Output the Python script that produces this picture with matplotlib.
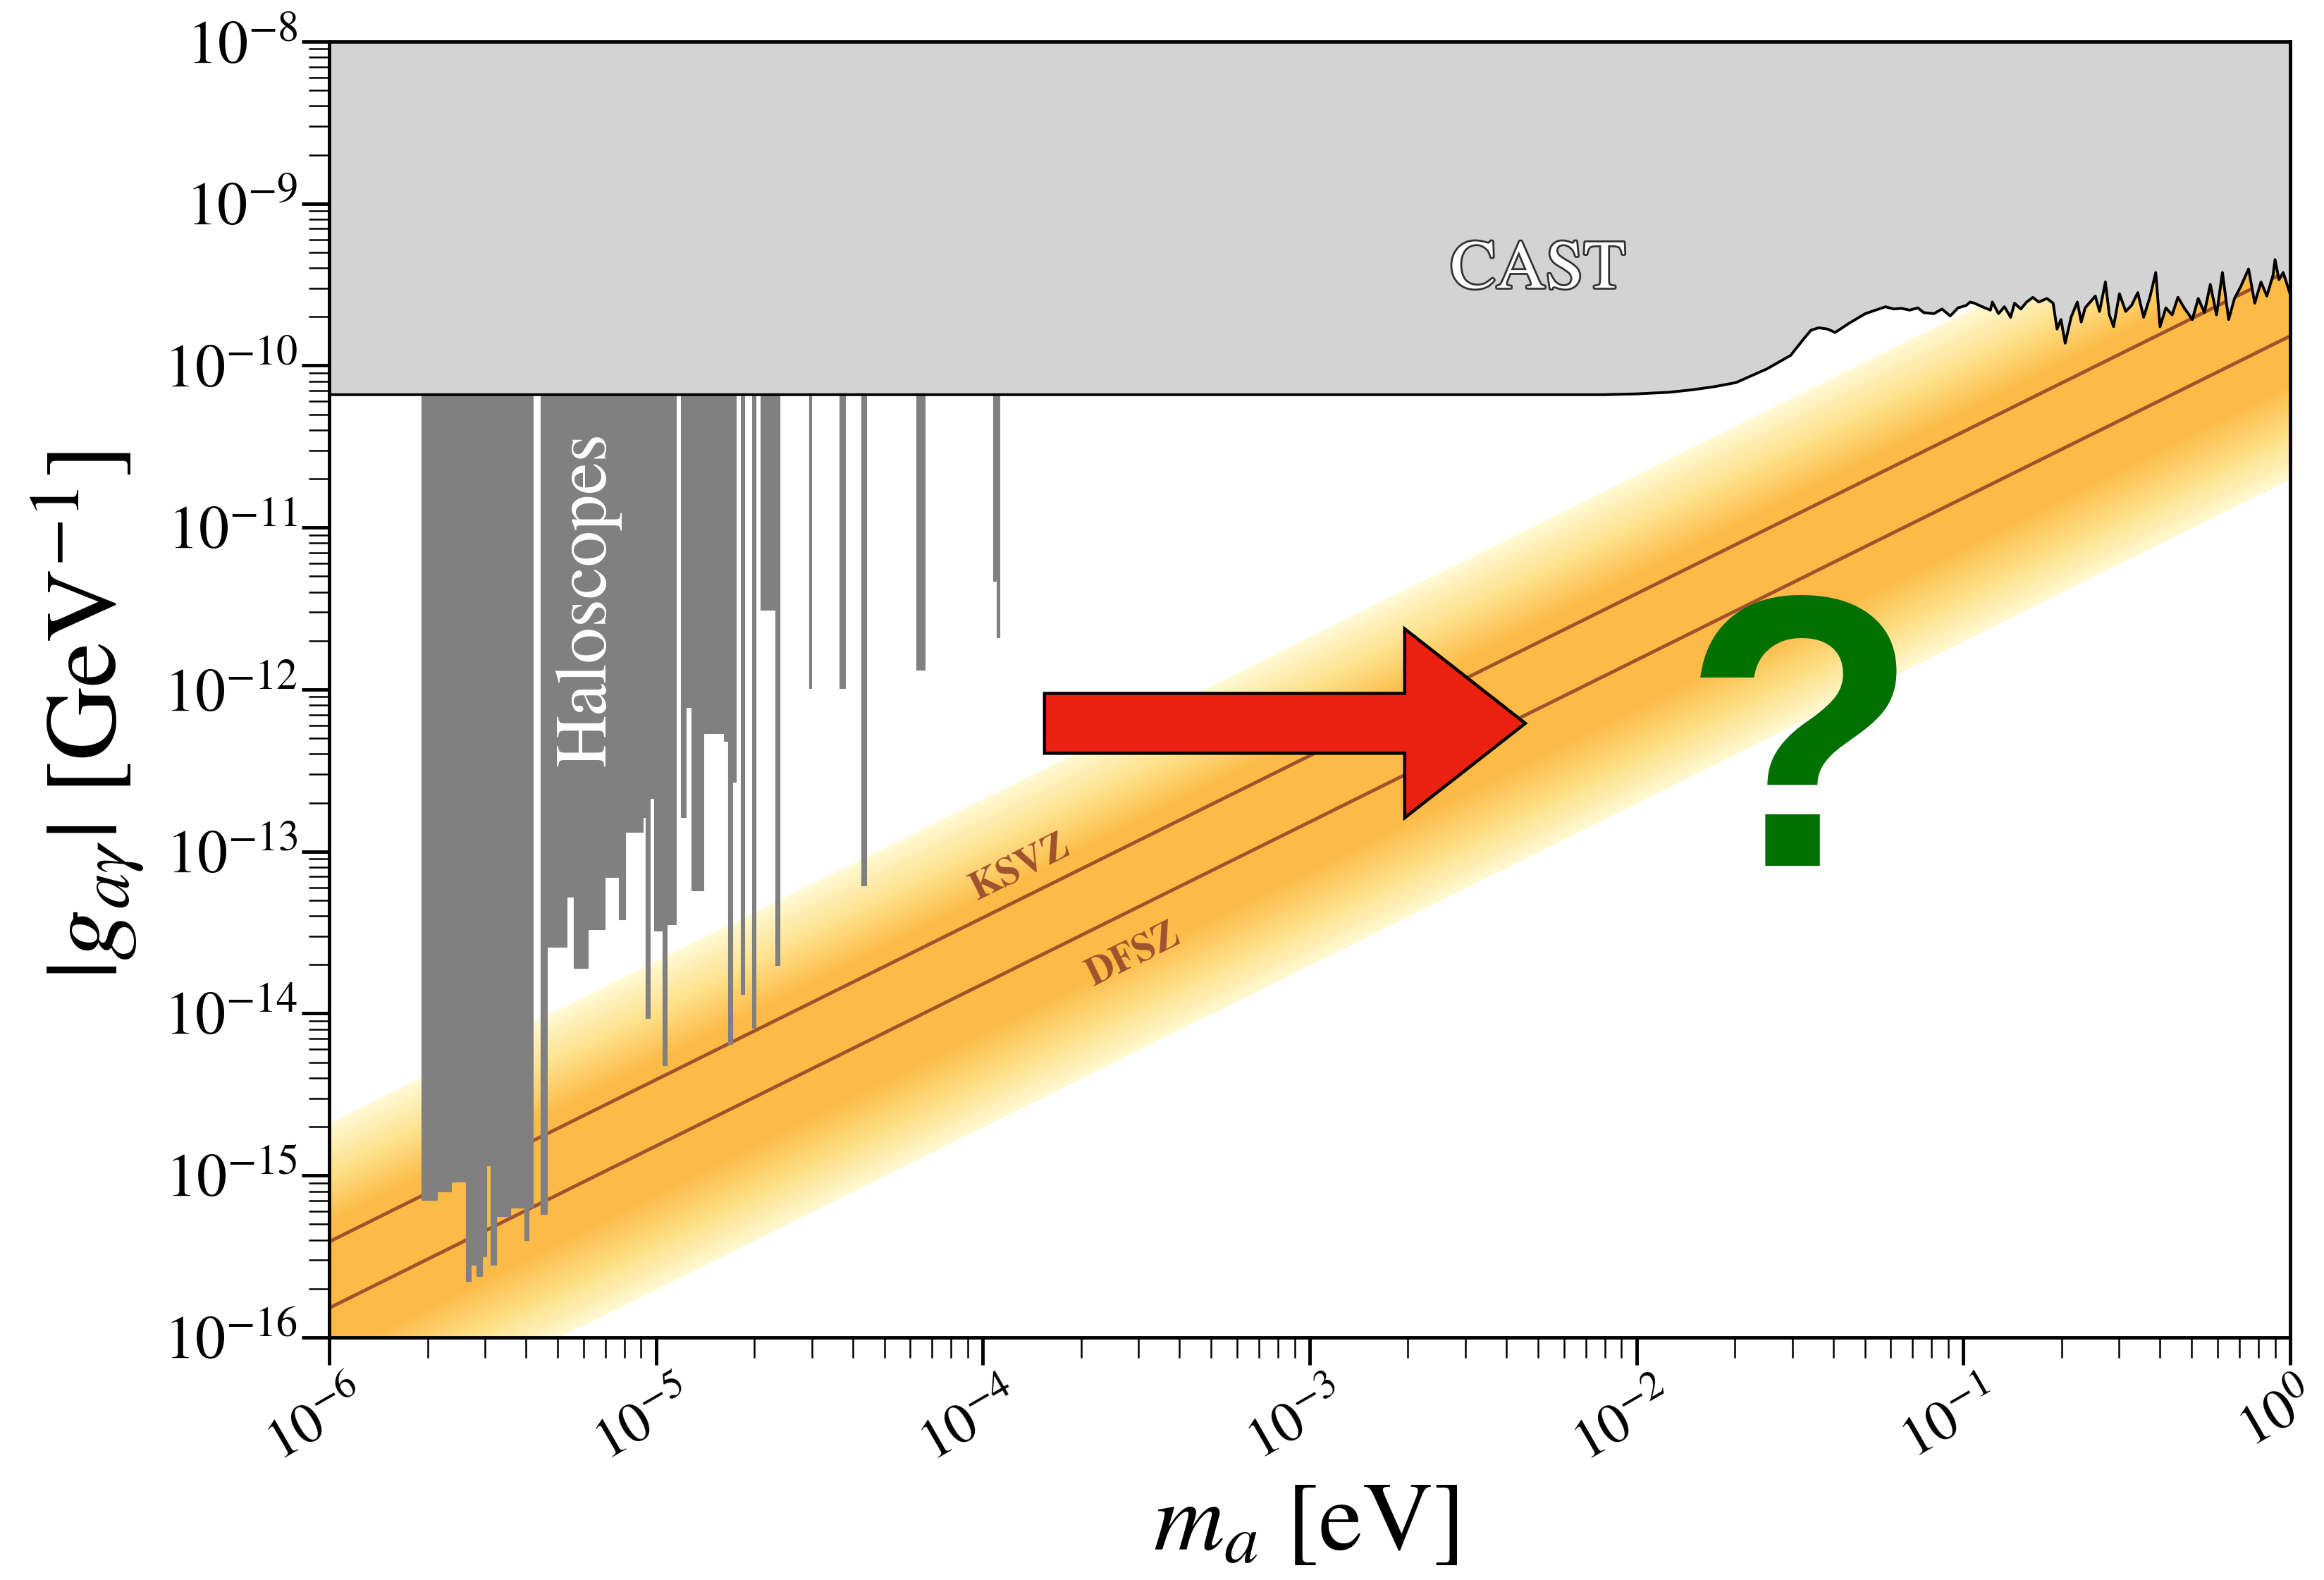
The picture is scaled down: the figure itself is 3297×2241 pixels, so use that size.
import numpy as np
import matplotlib.pyplot as plt
import matplotlib.patheffects as pe
import matplotlib.transforms as mtransforms
from matplotlib.patches import FancyArrow
from matplotlib.ticker import LogLocator, NullFormatter

plt.rcParams['font.family'] = 'STIXGeneral'
plt.rcParams['mathtext.fontset'] = 'stix'

# CAST helioscope limit, log10 of mass [eV] and coupling [GeV^-1]
cast_log_m = [-6.0, -2.10, -2.00, -1.90, -1.83, -1.76, -1.695, -1.60, -1.528, -1.49,
              -1.466, -1.442, -1.415, -1.392, -1.35, -1.300, -1.238, -1.213, -1.189, -1.164,
              -1.139, -1.121, -1.090, -1.065, -1.040, -1.016, -0.991, -0.979, -0.966, -0.942,
              -0.917, -0.911, -0.892, -0.874, -0.855, -0.843, -0.824, -0.806, -0.787, -0.769,
              -0.744, -0.725, -0.713, -0.701, -0.688, -0.670, -0.651, -0.639, -0.627, -0.608,
              -0.596, -0.583, -0.565, -0.553, -0.540, -0.522, -0.503, -0.485, -0.466, -0.448,
              -0.429, -0.411, -0.398, -0.380, -0.361, -0.343, -0.324, -0.299, -0.281, -0.262,
              -0.244, -0.225, -0.207, -0.188, -0.170, -0.151, -0.127, -0.108, -0.089, -0.071,
              -0.052, -0.046, -0.034, -0.021, 0.0]
cast_log_g = [-10.18, -10.18, -10.175, -10.165, -10.15, -10.13, -10.105, -10.02, -9.937, -9.84,
              -9.782, -9.767, -9.775, -9.796, -9.74, -9.680, -9.637, -9.651, -9.647, -9.658,
              -9.644, -9.673, -9.680, -9.651, -9.694, -9.644, -9.629, -9.608, -9.615, -9.637,
              -9.658, -9.608, -9.680, -9.637, -9.702, -9.615, -9.651, -9.608, -9.579, -9.608,
              -9.586, -9.615, -9.775, -9.716, -9.862, -9.702, -9.608, -9.731, -9.644, -9.600,
              -9.571, -9.666, -9.484, -9.687, -9.760, -9.557, -9.666, -9.629, -9.550, -9.702,
              -9.579, -9.426, -9.760, -9.644, -9.687, -9.579, -9.644, -9.716, -9.586, -9.673,
              -9.499, -9.687, -9.426, -9.716, -9.586, -9.513, -9.404, -9.615, -9.484, -9.571,
              -9.441, -9.346, -9.470, -9.426, -9.557]
cast_flat = 6.6e-11

# haloscope exclusions: mass intervals (log10 eV) and lowest coupling reached (log10)
halo_log_m_lo = [-5.717, -5.670, -5.627, -5.582, -5.567, -5.549, -5.532, -5.519, -5.506, -5.489,
                 -5.446, -5.403, -5.390, -5.353, -5.334, -5.273, -5.252, -5.209, -5.157, -5.114,
                 -5.094, -5.040, -5.032, -5.019, -5.006, -4.980, -4.967, -4.924, -4.909, -4.892,
                 -4.855, -4.792, -4.779, -4.766, -4.741, -4.706, -4.680, -4.635, -4.531, -4.439,
                 -4.372, -4.204, -3.969, -3.958]
halo_log_m_hi = [-5.670, -5.627, -5.582, -5.567, -5.549, -5.532, -5.519, -5.506, -5.489, -5.446,
                 -5.403, -5.390, -5.377, -5.334, -5.273, -5.252, -5.209, -5.157, -5.114, -5.094,
                 -5.040, -5.032, -5.019, -5.006, -4.980, -4.967, -4.939, -4.909, -4.892, -4.855,
                 -4.792, -4.779, -4.766, -4.756, -4.730, -4.695, -4.635, -4.622, -4.525, -4.421,
                 -4.357, -4.178, -3.958, -3.949]
halo_log_g = [-15.15, -15.10, -15.04, -15.65, -15.55, -15.62, -15.50, -14.94, -15.55, -15.25,
              -15.20, -15.40, -15.20, -15.24, -13.59, -13.28, -13.72, -13.48, -13.16, -13.42,
              -12.88, -12.79, -14.03, -12.67, -13.49, -14.32, -13.45, -12.79, -12.11, -13.24,
              -12.27, -12.32, -14.19, -12.57, -13.88, -14.09, -11.51, -13.70, -11.99, -11.99,
              -13.21, -11.88, -11.33, -11.68]

# QCD axion models, g = coeff * (m / eV)
ksvz_coeff = 3.9e-10
dfsz_coeff = 1.52e-10
band_upper_coeff = 2.1e-9
band_lower_coeff = 2.0e-11

mass_ticks = 10.0 ** np.arange(-6, 1)
coupling_ticks = 10.0 ** np.arange(-16, -7)

m_range = np.array([1e-6, 1.0])

fig = plt.figure(figsize=(32.98, 22.41), dpi=100)
ax = fig.add_axes([0.1416, 0.1535, 0.8435, 0.8202])
ax.set_xscale('log')
ax.set_yscale('log')
ax.set_xlim(1e-6, 1.0)
ax.set_ylim(1e-16, 1e-8)

# axion band as thin strips, shaded by distance (in decades) from the DFSZ line
stop_d = [-0.88, -0.60, -0.28, 0.52, 0.82, 1.14]
stop_rgb = np.array([[255, 250, 212], [254, 224, 136], [252, 186, 70],
                     [252, 186, 70], [254, 224, 136], [255, 250, 212]]) / 255.0
edges = np.linspace(np.log10(band_lower_coeff), np.log10(band_upper_coeff), 161)
for lo, hi in zip(edges[:-1], edges[1:]):
    d = 0.5 * (lo + hi) - np.log10(dfsz_coeff)
    col = [np.interp(d, stop_d, stop_rgb[:, k]) for k in range(3)]
    ax.fill_between(m_range, 10**lo * m_range, 10**hi * m_range,
                    facecolor=col, edgecolor=col, lw=1.0, zorder=1)

line_col = '#A0522D'
ax.plot(m_range, ksvz_coeff * m_range, color=line_col, lw=3.5, zorder=2)
ax.plot(m_range, dfsz_coeff * m_range, color=line_col, lw=3.5, zorder=2)
ax.text(1.30e-4, 7.9e-14, 'KSVZ', color=line_col, fontsize=40, fontweight='bold',
        rotation=26.4, ha='center', va='center', zorder=2)
ax.text(2.9e-4, 2.26e-14, 'DFSZ', color=line_col, fontsize=40, fontweight='bold',
        rotation=26.4, ha='center', va='center', zorder=2)

# haloscopes
for lo, hi, g in zip(halo_log_m_lo, halo_log_m_hi, halo_log_g):
    ax.fill_between([10**lo, 10**hi], 10**g, cast_flat,
                    facecolor='#808080', edgecolor='#808080', lw=0.8, zorder=3)
ax.text(6.2e-6, 3.6e-12, 'Haloscopes', color='white', fontsize=74,
        rotation=90, ha='center', va='center', zorder=4)

# CAST
cast_m = 10**np.array(cast_log_m)
cast_g = 10**np.array(cast_log_g)
ax.fill_between(cast_m, cast_g, 1e-8, color='#D3D3D3', lw=0, zorder=4)
ax.plot(cast_m, cast_g, color='black', lw=2.8, zorder=5)
ax.text(5.0e-3, 3.8e-10, 'CAST', color='white', fontsize=70, ha='center', va='center',
        zorder=6, path_effects=[pe.withStroke(linewidth=4, foreground='#333333')])

# arrow and question mark
arrow = FancyArrow(0.3648, 0.4739, 0.2452, 0.0, width=0.0462, head_width=0.1458,
                   head_length=0.0615, length_includes_head=True, transform=ax.transAxes,
                   facecolor='#EC200E', edgecolor='black', lw=3.2, joinstyle='miter',
                   zorder=7)
ax.add_patch(arrow)
ax.text(0.7505, 0.364, '?', transform=ax.transAxes, fontsize=395, fontweight='bold',
        family='Liberation Sans', color='#007000', ha='center', va='baseline', zorder=8)

# axes styling
ax.set_xticks(mass_ticks)
ax.set_yticks(coupling_ticks)
for axis in (ax.xaxis, ax.yaxis):
    axis.set_minor_locator(LogLocator(base=10, subs=np.arange(2, 10), numticks=200))
    axis.set_minor_formatter(NullFormatter())
ax.set_xlim(1e-6, 1.0)
ax.set_ylim(1e-16, 1e-8)
for sp in ax.spines.values():
    sp.set_linewidth(3.5)
    sp.set_zorder(10)
ax.tick_params(which='major', length=28, width=3.5)
ax.tick_params(which='minor', length=21, width=1.8)
ax.tick_params(axis='y', which='major', pad=4, labelsize=62)
ax.tick_params(axis='x', which='major', pad=10, labelsize=58, labelrotation=30)

# nudge the rotated mass labels a little to the left
shift = mtransforms.ScaledTranslation(-12 / 72, 0, fig.dpi_scale_trans)
for lab in ax.get_xticklabels():
    lab.set_transform(lab.get_transform() + shift)

ax.set_xlabel(r'$m_a\ [\mathrm{eV}]$', fontsize=100)
ax.set_ylabel(r'$|g_{a\gamma}|\ [\mathrm{GeV}^{-1}]$', fontsize=104)
ax.xaxis.set_label_coords(0.498, -0.146)
ax.xaxis.label.set_va('center')
ax.yaxis.set_label_coords(-0.123, 0.48)
ax.yaxis.label.set_va('center')

fig.savefig('out.png', dpi=100)
